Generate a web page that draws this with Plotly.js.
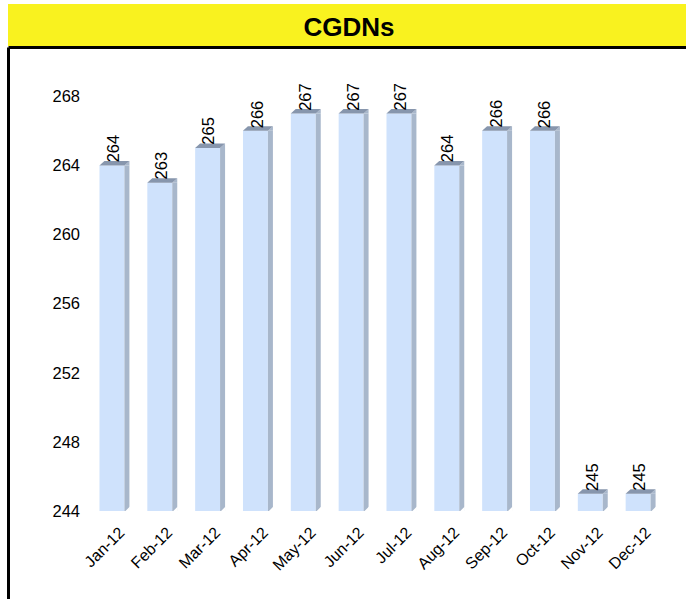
<!DOCTYPE html>
<html>
<head>
<meta charset="utf-8">
<script src="https://cdn.plot.ly/plotly-3.0.1.min.js"></script>
<style>
  html, body { margin: 0; padding: 0; background: #ffffff; }
  #chart { width: 686px; height: 599px; }
</style>
</head>
<body>
<div id="chart"></div>
<script>
// ---- data ----
const months = ["Jan-12", "Feb-12", "Mar-12", "Apr-12", "May-12", "Jun-12",
                "Jul-12", "Aug-12", "Sep-12", "Oct-12", "Nov-12", "Dec-12"];
const cgdns = [264, 263, 265, 266, 267, 267, 267, 264, 266, 266, 245, 245];
const yTicks = [244, 248, 252, 256, 260, 264, 268];
const chartTitle = "CGDNs";

// ---- layout constants ----
const W = 686, H = 599;
const M = { l: 88, r: 24, t: 79, b: 88 };
const PW = W - M.l - M.r, PH = H - M.t - M.b;
const px2x = p => (p - M.l) / PW;
const px2y = p => (H - M.b - p) / PH;
const yMin = 244, yMax = 269;
const FONT = "Liberation Sans, Arial, sans-serif";

const FRONT = "#cfe2fc", TOP = "#8796ad", SIDE = "#a8b7cb";
const HALF = 12.5, DX = 5, DY = 4.5;

const shapes = [];
// yellow title band
shapes.push({ type: "rect", xref: "paper", yref: "paper",
  x0: px2x(8), x1: px2x(686), y0: px2y(46), y1: px2y(4),
  fillcolor: "#f9f21f", line: { width: 0 }, layer: "below" });
// black frame (top and left)
shapes.push({ type: "line", xref: "paper", yref: "paper",
  x0: px2x(8.5), x1: px2x(690), y0: px2y(47.5), y1: px2y(47.5),
  line: { color: "#000000", width: 3 } });
shapes.push({ type: "line", xref: "paper", yref: "paper",
  x0: px2x(8.5), x1: px2x(8.5), y0: px2y(47.5), y1: px2y(602),
  line: { color: "#000000", width: 3 } });

// 3D faces of the bars
cgdns.forEach((v, i) => {
  shapes.push({ type: "rect", xref: "x", yref: "y", xsizemode: "pixel", xanchor: i,
    x0: HALF, x1: HALF + DX, y0: yMin, y1: v,
    fillcolor: SIDE, line: { width: 0 } });
  shapes.push({ type: "path", xref: "x", yref: "y", xsizemode: "pixel", ysizemode: "pixel",
    xanchor: i, yanchor: v,
    path: `M${HALF},0 L${HALF + DX},${DY} L${HALF + DX},0 Z`,
    fillcolor: SIDE, line: { width: 0 } });
  shapes.push({ type: "path", xref: "x", yref: "y", xsizemode: "pixel", ysizemode: "pixel",
    xanchor: i, yanchor: yMin,
    path: `M${HALF},-1 L${HALF + DX + 0.5},${DY} L${HALF + DX + 0.5},-1 Z`,
    fillcolor: "#ffffff", line: { width: 0 } });
  shapes.push({ type: "path", xref: "x", yref: "y", xsizemode: "pixel", ysizemode: "pixel",
    xanchor: i, yanchor: v,
    path: `M${-HALF},0 L${HALF},0 L${HALF + DX},${DY} L${-HALF + DX},${DY} Z`,
    fillcolor: TOP, line: { width: 0 } });
});

const annotations = cgdns.map((v, i) => ({
  x: i, y: v, xref: "x", yref: "y", text: String(v), showarrow: false,
  textangle: -90, xanchor: "center", yanchor: "bottom", yshift: 1, xshift: 1,
  font: { family: FONT, size: 16.5, color: "#000000" }
}));

const trace = {
  type: "bar", x: months, y: cgdns, width: 0.52,
  marker: { color: FRONT, line: { width: 0 } },
  hoverinfo: "x+y", cliponaxis: true
};

const layout = {
  width: W, height: H, margin: M,
  paper_bgcolor: "#ffffff", plot_bgcolor: "rgba(0,0,0,0)",
  showlegend: false,
  font: { family: FONT, size: 16, color: "#000000" },
  title: { text: "<b>" + chartTitle + "</b>", x: 349 / W, xanchor: "center",
           y: 1 - 27 / H, yanchor: "middle", yref: "container",
           font: { family: FONT, size: 26, color: "#000000" } },
  xaxis: { type: "category", range: [-0.5, months.length - 0.5], showgrid: false, zeroline: false,
           showline: false, ticks: "", tickangle: -45,
           ticklabelstandoff: 8, ticklabelshift: 8,
           tickfont: { family: FONT, size: 16 } },
  yaxis: { range: [yMin, yMax], tickvals: yTicks, ticktext: yTicks.map(String),
           showgrid: false, zeroline: false, showline: false, ticks: "",
           ticklabelstandoff: 7,
           tickfont: { family: FONT, size: 16.5 } },
  shapes: shapes, annotations: annotations, bargap: 0.48
};

Plotly.newPlot("chart", [trace], layout, { displayModeBar: false, staticPlot: true });
</script>
</body>
</html>
